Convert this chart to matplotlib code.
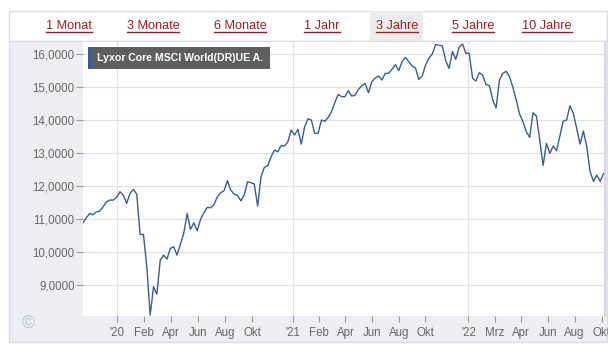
import numpy as np
import pandas as pd
import matplotlib
matplotlib.use('Agg')
import matplotlib.pyplot as plt
from matplotlib.patches import Rectangle
from matplotlib.lines import Line2D

plt.rcParams['font.family'] = ['Liberation Sans', 'DejaVu Sans']

# Kursverlauf (wöchentlich)
values = [10899, 11051, 11182, 11141, 11232, 11253, 11384, 11535, 11586, 11586,
          11667, 11838, 11737, 11485, 11788, 11909, 11768, 10545, 10545, 9566,
          8101, 8960, 8737, 9768, 9919, 9798, 10121, 10172, 9919, 10253,
          10576, 11182, 10697, 10899, 10657, 11000, 11202, 11364, 11354, 11444,
          11687, 11808, 11869, 12172, 11889, 11768, 11727, 11566, 11737, 12141,
          12111, 12071, 11404, 12293, 12576, 12626, 12899, 13101, 13051, 13242,
          13222, 13354, 13707, 13556, 13727, 13283, 13808, 14051, 14010, 13606,
          13606, 14010, 13970, 14091, 14263, 14545, 14788, 14717, 14717, 14899,
          14737, 14758, 14939, 15040, 15121, 14838, 15172, 15283, 15343, 15222,
          15424, 15424, 15545, 15687, 15505, 15778, 15909, 15778, 15646, 15586,
          15242, 15343, 15677, 15879, 16010, 16293, 16273, 16253, 15808, 15576,
          16081, 15848, 16212, 16313, 16030, 16030, 15273, 15192, 15444, 15364,
          15081, 15051, 14616, 14374, 15222, 15424, 15485, 15323, 15000, 14616,
          14192, 13960, 13657, 13485, 14232, 14131, 13404, 12636, 13303, 13000,
          13222, 13081, 13525, 13980, 14010, 14444, 14212, 13758, 13283, 13677,
          13202, 12444, 12152, 12343, 12152, 12394]
dates = pd.date_range('2019-10-22', '2022-10-09', periods=len(values))

series_name = 'Lyxor Core MSCI World(DR)UE A.'
tabs = ['1 Monat', '3 Monate', '6 Monate', '1 Jahr', '3 Jahre', '5 Jahre', '10 Jahre']
tab_x = [69, 153, 240, 322, 397, 473, 547]

y_ticks = [9000, 10000, 11000, 12000, 13000, 14000, 15000, 16000]
y_labels = ['9,0000', '10,0000', '11,0000', '12,0000', '13,0000', '14,0000', '15,0000', '16,0000']
x_ticks = pd.to_datetime(['2020-01-01', '2020-02-25', '2020-04-22', '2020-06-17', '2020-08-13', '2020-10-08',
                          '2021-01-01', '2021-02-24', '2021-04-20', '2021-06-15', '2021-08-10', '2021-10-03',
                          '2022-01-01', '2022-02-25', '2022-04-21', '2022-06-16', '2022-08-10', '2022-10-05'])
x_labels = ["'20", 'Feb', 'Apr', 'Jun', 'Aug', 'Okt',
            "'21", 'Feb', 'Apr', 'Jun', 'Aug', 'Okt',
            "'22", 'Mrz', 'Apr', 'Jun', 'Aug', 'Okt']
year_lines = pd.to_datetime(['2020-01-01', '2021-01-01', '2022-01-01'])

W, H = 616, 354
fig = plt.figure(figsize=(W / 100, H / 100), dpi=100)
fig.patch.set_facecolor('white')


def fx(px):
    return px / W


def fy(py):
    return 1 - py / H


# Rahmen, Tab-Leiste, grauer Chart-Hintergrund
fig.patches.append(Rectangle((fx(9), fy(41)), fx(607) - fx(9), fy(11) - fy(41),
                             transform=fig.transFigure, facecolor='white', edgecolor='#d9dce2', lw=1, zorder=-2))
fig.patches.append(Rectangle((fx(9), fy(342)), fx(607) - fx(9), fy(41) - fy(342),
                             transform=fig.transFigure, facecolor='#eceef3', edgecolor='#d9dce2', lw=1, zorder=-2))
fig.patches.append(Rectangle((fx(370), fy(40.5)), fx(423) - fx(370), fy(11.5) - fy(40.5),
                             transform=fig.transFigure, facecolor='#ebebeb', edgecolor='none', zorder=-1))

tab_texts = []
for t, x in zip(tabs, tab_x):
    tab_texts.append(fig.text(fx(x), fy(26), t, ha='center', va='center', fontsize=9.2, color='#a01c24'))

ax = fig.add_axes([fx(83), fy(316), fx(605) - fx(83), fy(42) - fy(316)])
ax.set_facecolor('white')
ax.plot(dates, values, color='#3d5a94', lw=1.0)

ax.set_ylim(8076, 16373)
ax.set_xlim(pd.Timestamp('2019-10-22'), pd.Timestamp('2022-10-12'))
ax.set_yticks(y_ticks)
ax.set_yticklabels(y_labels)
ax.set_xticks(x_ticks)
ax.set_xticklabels(x_labels)
ax.grid(axis='y', color='#dfe2e8', lw=0.9)
for d in year_lines:
    ax.axvline(d, color='#dfe2e8', lw=0.9, zorder=0)
ax.tick_params(axis='y', length=5, width=0.8, color='#999999', labelsize=8.3, labelcolor='#666666', pad=1)
ax.tick_params(axis='x', length=4, width=0.8, color='#999999', labelsize=8.3, labelcolor='#666666', pad=4)
for s in ['top', 'left', 'bottom']:
    ax.spines[s].set_visible(False)
ax.spines['right'].set_color('#c9d2e3')
ax.spines['right'].set_linewidth(1.2)

# Legende oben links
fig.patches.append(Rectangle((fx(88), fy(69)), fx(270) - fx(88), fy(47) - fy(69),
                             transform=fig.transFigure, facecolor='#5e5e5e', edgecolor='none', zorder=5))
fig.patches.append(Rectangle((fx(88), fy(69)), fx(91) - fx(88), fy(47) - fy(69),
                             transform=fig.transFigure, facecolor='#3b5998', edgecolor='none', zorder=6))
leg = fig.text(fx(97), fy(58), series_name, ha='left', va='center', fontsize=8.6, fontweight='bold',
               color='white', zorder=7)

fig.text(fx(28), fy(323), '\u00a9', ha='center', va='center', fontsize=13, color='#c4c7cd')

# rechten Rand abschneiden
fig.patches.append(Rectangle((fx(607.5), 0), 1 - fx(607.5), 1, transform=fig.transFigure,
                             facecolor='white', edgecolor='none', zorder=20))

fig.canvas.draw()
r = fig.canvas.get_renderer()
# Legendentext auf Boxbreite bringen
w = leg.get_window_extent(r).width
leg.set_fontsize(8.6 * 166 / w)

# Unterstreichungen der Tabs
for tt in tab_texts:
    bb = tt.get_window_extent(r)
    fig.add_artist(Line2D([bb.x0 / W, bb.x1 / W], [fy(32), fy(32)], transform=fig.transFigure,
                          color='#a01c24', lw=1))

fig.savefig('out.png', dpi=100)
